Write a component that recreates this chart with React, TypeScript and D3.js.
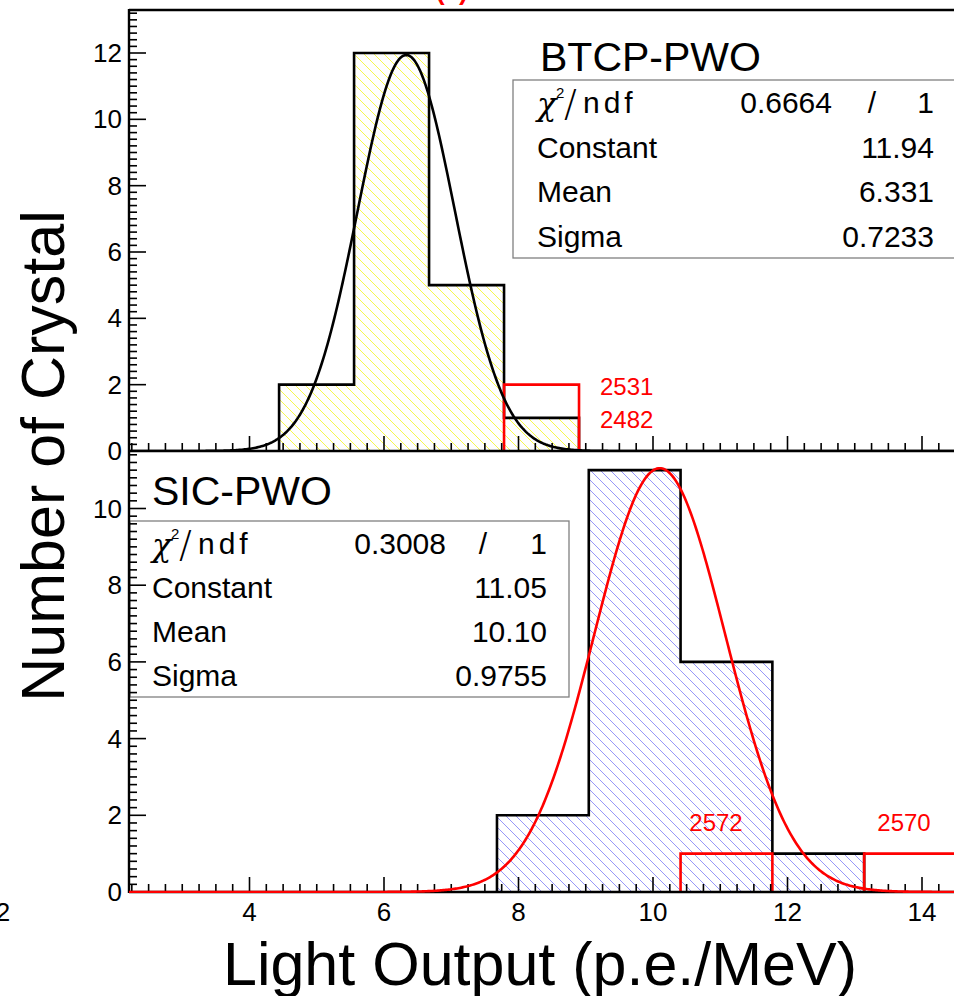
import React from "react";
import * as d3 from "d3";

// ---------- data ----------
const topBinEdges = [4.44, 5.555, 6.67, 7.785, 8.9];
const topCounts = [2, 12, 5, 1];
const topRedBins = [{ x0: 7.785, x1: 8.9, h: 2 }];
const topRedLabels = ["2531", "2482"];
const topFit = { constant: 11.94, mean: 6.331, sigma: 0.7233 };
const topStats = [
  ["Constant", "11.94"],
  ["Mean", "6.331"],
  ["Sigma", "0.7233"],
];
const topChi2 = "0.6664";

const botBinEdges = [7.68, 9.045, 10.41, 11.775, 13.14];
const botCounts = [2, 11, 6, 1];
const botRedBins = [
  { x0: 10.41, x1: 11.775, h: 1 },
  { x0: 13.14, x1: 14.505, h: 1 },
];
const botRedLabels = ["2572", "2570"];
const botFit = { constant: 11.05, mean: 10.1, sigma: 0.9755 };
const botStats = [
  ["Constant", "11.05"],
  ["Mean", "10.10"],
  ["Sigma", "0.9755"],
];
const botChi2 = "0.3008";

const xTickLabels = [4, 6, 8, 10, 12, 14];
const topYTicks = [0, 2, 4, 6, 8, 10, 12];
const botYTicks = [0, 2, 4, 6, 8, 10];

// ---------- layout ----------
const W = 954;
const H = 996;
const FONT = "'Liberation Sans', Arial, Helvetica, sans-serif";
const xLeft = 129;
const xRight = 956;

const x = d3.scaleLinear().domain([4, 14]).range([249.5, 922]);
const xMin = x.invert(xLeft);
const xMax = x.invert(xRight);
const yTop = d3.scaleLinear().domain([0, 12]).range([451, 53]);
const yBot = d3.scaleLinear().domain([0, 10]).range([892, 508.5]);
const topMax = yTop.invert(10);
const botMax = yBot.invert(451);

function stepPath(edges: number[], counts: number[], y: d3.ScaleLinear<number, number>) {
  const p = d3.path();
  p.moveTo(x(edges[0]), y(0));
  counts.forEach((c, i) => {
    p.lineTo(x(edges[i]), y(c));
    p.lineTo(x(edges[i + 1]), y(c));
  });
  p.lineTo(x(edges[edges.length - 1]), y(0));
  return p.toString();
}

function redBoxPath(b: { x0: number; x1: number; h: number }, y: d3.ScaleLinear<number, number>) {
  const p = d3.path();
  p.moveTo(x(b.x0), y(0));
  p.lineTo(x(b.x0), y(b.h));
  p.lineTo(x(b.x1), y(b.h));
  p.lineTo(x(b.x1), y(0));
  return p.toString();
}

function gaussPath(f: { constant: number; mean: number; sigma: number }, y: d3.ScaleLinear<number, number>) {
  const n = 600;
  const pts: [number, number][] = d3.range(n + 1).map((i) => {
    const v = xMin + ((xMax - xMin) * i) / n;
    const g = f.constant * Math.exp(-((v - f.mean) ** 2) / (2 * f.sigma * f.sigma));
    return [v, g];
  });
  return d3
    .line<[number, number]>()
    .x((d) => x(d[0]))
    .y((d) => y(d[1]))
    .curve(d3.curveLinear)(pts) as string;
}

function range(a: number, b: number, s: number) {
  const out: number[] = [];
  for (let v = a; v <= b + 1e-9; v += s) out.push(Math.round(v * 1000) / 1000);
  return out;
}

const xMinor = range(2.25, 14.5, 0.25).filter((v) => x(v) > xLeft + 1 && x(v) < W);
const xMajor = range(4, 14, 2);

function XTicks({ y0 }: { y0: number }) {
  return (
    <g stroke="#000" strokeWidth={1.6}>
      {xMinor.map((v) => {
        const major = xMajor.includes(v);
        return <line key={v} x1={x(v)} x2={x(v)} y1={y0} y2={y0 - (major ? 15 : 8)} />;
      })}
    </g>
  );
}

function YTicks({ y, max }: { y: d3.ScaleLinear<number, number>; max: number }) {
  const vals = range(0, max, 0.2);
  return (
    <g stroke="#000" strokeWidth={1.6}>
      {vals.map((v) => {
        const major = Math.abs(v / 2 - Math.round(v / 2)) < 1e-6;
        return <line key={v} x1={xLeft} x2={xLeft + (major ? 17 : 8)} y1={y(v)} y2={y(v)} />;
      })}
    </g>
  );
}

function Chi2Label({ x0, base }: { x0: number; base: number }) {
  return (
    <g fontFamily={FONT} fill="#000">
      <text x={x0} y={base + 2} fontSize={32} fontStyle="italic" fontFamily="'DejaVu Serif', serif">
        χ
      </text>
      <text x={x0 + 19} y={base - 15} fontSize={15}>
        2
      </text>
      <text x={x0 + 27} y={base + 3} fontSize={38} fontWeight={300} fontFamily="'DejaVu Sans', sans-serif">
        /
      </text>
      <text x={x0 + 46} y={base} fontSize={30} letterSpacing={4}>
        ndf
      </text>
    </g>
  );
}

function StatsBox({
  bx,
  by,
  bw,
  rowH,
  labelX,
  valueX,
  slashX,
  chiValX,
  chi2,
  rows,
}: {
  bx: number;
  by: number;
  bw: number;
  rowH: number;
  labelX: number;
  valueX: number;
  slashX: number;
  chiValX: number;
  chi2: string;
  rows: string[][];
}) {
  const firstBase = by + rowH / 2 + 11;
  return (
    <g>
      <rect x={bx} y={by} width={bw} height={rowH * 4} fill="#fff" stroke="#808080" strokeWidth={1.3} />
      <Chi2Label x0={labelX} base={firstBase} />
      <g fontFamily={FONT} fontSize={30} fill="#000">
        <text x={chiValX} y={firstBase} textAnchor="end">
          {chi2}
        </text>
        <text x={slashX} y={firstBase} textAnchor="middle">
          /
        </text>
        <text x={valueX} y={firstBase} textAnchor="end">
          1
        </text>
        {rows.map((r, i) => (
          <g key={r[0]}>
            <text x={labelX} y={firstBase + rowH * (i + 1)}>
              {r[0]}
            </text>
            <text x={valueX} y={firstBase + rowH * (i + 1)} textAnchor="end">
              {r[1]}
            </text>
          </g>
        ))}
      </g>
    </g>
  );
}

export default function App() {
  return (
    <svg width={W} height={H} style={{ position: "absolute", left: 0, top: 0, background: "#fff" }}>
      <defs>
        <pattern id="hatchY" patternUnits="userSpaceOnUse" width={10} height={10}>
          <path d="M-2,-2 L12,12 M-2,8 L2,12 M8,-2 L12,2" stroke="#f4f400" strokeWidth={0.7} />
        </pattern>
        <pattern id="hatchB" patternUnits="userSpaceOnUse" width={10} height={10}>
          <path d="M-2,-2 L12,12 M-2,8 L2,12 M8,-2 L12,2" stroke="#6a6af5" strokeWidth={0.7} />
        </pattern>
        <clipPath id="clipTop">
          <rect x={xLeft} y={10} width={W - xLeft} height={441} />
        </clipPath>
        <clipPath id="clipBot">
          <rect x={xLeft} y={451} width={W - xLeft} height={442} />
        </clipPath>
      </defs>

      {/* clipped red panel label at top */}
      <text x={436} y={0} fontFamily={FONT} fontSize={26} fontWeight="bold" fill="#ff0000">
        (a)
      </text>

      {/* ---------- top panel ---------- */}
      <g>
        {topCounts.map((c, i) => (
          <rect
            key={i}
            x={x(topBinEdges[i])}
            y={yTop(c)}
            width={x(topBinEdges[i + 1]) - x(topBinEdges[i])}
            height={yTop(0) - yTop(c)}
            fill="url(#hatchY)"
          />
        ))}
        <path d={stepPath(topBinEdges, topCounts, yTop)} fill="none" stroke="#000" strokeWidth={2.6} />
        {topRedBins.map((b, i) => (
          <path key={i} d={redBoxPath(b, yTop)} fill="none" stroke="#ff0000" strokeWidth={2.6} />
        ))}
        <g clipPath="url(#clipTop)">
          <path d={gaussPath(topFit, yTop)} fill="none" stroke="#000" strokeWidth={2.6} />
        </g>
        <text x={600} y={395} fontFamily={FONT} fontSize={24} fill="#ff0000">
          {topRedLabels[0]}
        </text>
        <text x={600} y={428} fontFamily={FONT} fontSize={24} fill="#ff0000">
          {topRedLabels[1]}
        </text>
        <text x={540} y={71} fontFamily={FONT} fontSize={41} fill="#000">
          BTCP-PWO
        </text>
        <StatsBox
          bx={513}
          by={80}
          bw={460}
          rowH={44.5}
          labelX={537}
          valueX={934}
          slashX={872}
          chiValX={832}
          chi2={topChi2}
          rows={topStats}
        />
      </g>

      {/* ---------- bottom panel ---------- */}
      <g>
        {botCounts.map((c, i) => (
          <rect
            key={i}
            x={x(botBinEdges[i])}
            y={yBot(c)}
            width={x(botBinEdges[i + 1]) - x(botBinEdges[i])}
            height={yBot(0) - yBot(c)}
            fill="url(#hatchB)"
          />
        ))}
        <path d={stepPath(botBinEdges, botCounts, yBot)} fill="none" stroke="#000" strokeWidth={2.6} />
        <g clipPath="url(#clipBot)">
          {botRedBins.map((b, i) => (
            <path key={i} d={redBoxPath(b, yBot)} fill="none" stroke="#ff0000" strokeWidth={2.6} />
          ))}
        </g>
        <text x={716} y={831} textAnchor="middle" fontFamily={FONT} fontSize={24} fill="#ff0000">
          {botRedLabels[0]}
        </text>
        <text x={904} y={831} textAnchor="middle" fontFamily={FONT} fontSize={24} fill="#ff0000">
          {botRedLabels[1]}
        </text>
        <text x={152} y={505} fontFamily={FONT} fontSize={41} fill="#000">
          SIC-PWO
        </text>
        <StatsBox
          bx={130}
          by={521}
          bw={439}
          rowH={44}
          labelX={152}
          valueX={547}
          slashX={483}
          chiValX={446}
          chi2={botChi2}
          rows={botStats}
        />
      </g>

      {/* ---------- axes ---------- */}
      <XTicks y0={451} />
      <XTicks y0={892} />
      <YTicks y={yTop} max={topMax} />
      <YTicks y={yBot} max={botMax} />
      <g stroke="#000" strokeWidth={2.4}>
        <line x1={xLeft} x2={W} y1={10} y2={10} />
        <line x1={xLeft} x2={W} y1={451} y2={451} />
        <line x1={xLeft} x2={W} y1={892} y2={892} />
        <line x1={xLeft} x2={xLeft} y1={9} y2={893} />
      </g>
      <g clipPath="url(#clipBot)">
        <path d={gaussPath(botFit, yBot)} fill="none" stroke="#ff0000" strokeWidth={2.6} />
      </g>

      {/* tick labels */}
      <g fontFamily={FONT} fontSize={26} fill="#000">
        {topYTicks.map((v) => (
          <text key={"t" + v} x={122} y={yTop(v) + 9} textAnchor="end">
            {v}
          </text>
        ))}
        {botYTicks.map((v) => (
          <text key={"b" + v} x={122} y={yBot(v) + 9} textAnchor="end">
            {v}
          </text>
        ))}
        {xTickLabels.map((v) => (
          <text key={"x" + v} x={x(v)} y={921} textAnchor="middle">
            {v}
          </text>
        ))}
        <text x={3} y={921} textAnchor="middle">
          2
        </text>
      </g>

      {/* axis titles */}
      <text x={540} y={985} textAnchor="middle" fontFamily={FONT} fontSize={61} fill="#000">
        Light Output (p.e./MeV)
      </text>
      <text
        transform={`translate(64,456) rotate(-90)`}
        textAnchor="middle"
        fontFamily={FONT}
        fontSize={61}
        fill="#000"
      >
        Number of Crystal
      </text>
    </svg>
  );
}
